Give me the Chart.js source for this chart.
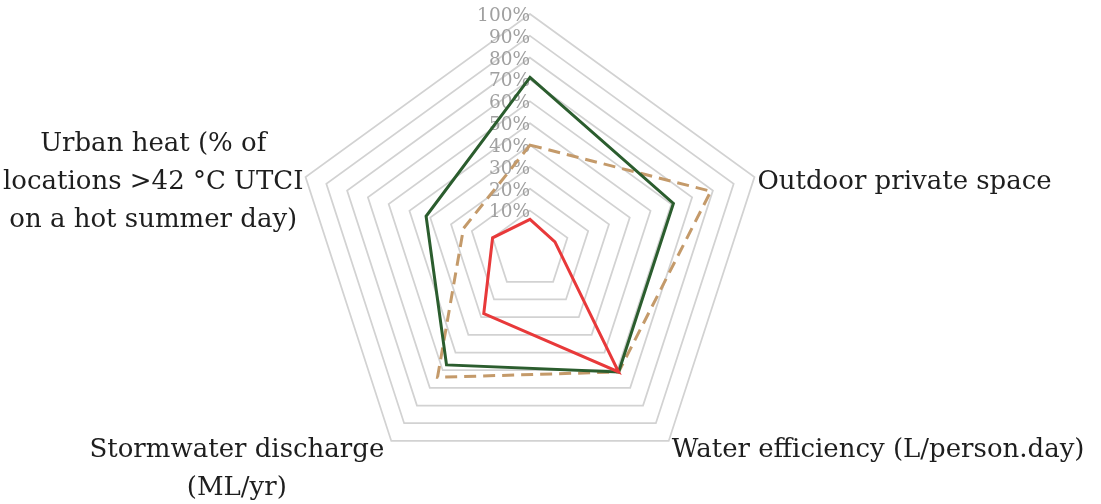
<!DOCTYPE html>
<html>
<head>
    <title>Precinct performance radar</title>
    <script src="https://cdn.jsdelivr.net/npm/chart.js"></script>
    <style>
        html, body { margin: 0; padding: 0; background: #fff; }
        #wrap { width: 1101px; height: 504px; }
    </style>
</head>
<body>
<div id="wrap"><canvas id="radarChart"></canvas></div>
<script>
    // axes, clockwise from the top (top axis has no label in the original)
    const categories = [
        [],
        ['Outdoor private space'],
        ['Water efficiency (L/person.day)'],
        ['Stormwater discharge', '(ML/yr)'],
        ['Urban heat (% of', 'locations >42 \u00B0C UTCI', 'on a hot summer day)']
    ];

    // values in % of each axis
    const greenSeries = [71, 61, 61, 57, 42];
    const tanSeries = [40, 79, 61, 64, 24];
    const redSeries = [6, 4, 61, 28, 10];

    const tickValues = [10, 20, 30, 40, 50, 60, 70, 80, 90, 100];
    const tickLabels = tickValues.map(v => v + '%');

    const axisMin = -8;   // inner ring (10%) sits away from the centre, as in the original
    const labelFont = '26px "DejaVu Serif", serif';
    const tickFont = '18.5px "DejaVu Serif", serif';

    // tick labels and axis titles drawn Excel-style (right-aligned ticks, centred multi-line titles)
    const excelLabels = {
        id: 'excelLabels',
        beforeDatasetsDraw(chart) {
            const scale = chart.scales.r;
            const ctx = chart.ctx;
            ctx.save();
            ctx.font = tickFont;
            ctx.fillStyle = '#a0a0a0';
            ctx.textAlign = 'right';
            ctx.textBaseline = 'middle';
            tickValues.forEach((v, i) => {
                const p = scale.getPointPositionForValue(0, v);
                ctx.fillText(tickLabels[i], p.x, p.y + 2);
            });
            ctx.restore();
        },
        afterDraw(chart) {
            const scale = chart.scales.r;
            const ctx = chart.ctx;
            const lineH = 38;
            ctx.save();
            ctx.font = labelFont;
            ctx.fillStyle = '#1e1e1e';
            ctx.textAlign = 'center';
            ctx.textBaseline = 'middle';
            categories.forEach((lines, i) => {
                if (!lines.length) return;
                const p = scale.getPointPosition(i, scale.drawingArea);
                const w = Math.max(...lines.map(l => ctx.measureText(l).width));
                let midX = p.x;
                if (p.x > scale.xCenter + 5) midX = p.x + 3 + w / 2;
                else if (p.x < scale.xCenter - 5) midX = Math.max(p.x - 7 - w / 2, 3 + w / 2);
                let top;
                if (p.y > scale.yCenter + 20) top = p.y - 10;
                else top = p.y + 5 - lines.length * lineH / 2;
                lines.forEach((l, j) => ctx.fillText(l, midX, top + lineH * (j + 0.5)));
            });
            ctx.restore();
        }
    };

    const ctx = document.getElementById('radarChart').getContext('2d');
    const chart = new Chart(ctx, {
        type: 'radar',
        data: {
            labels: categories,
            datasets: [
                {
                    label: 'Option C',
                    data: redSeries,
                    borderColor: '#e8393a',
                    borderWidth: 3,
                    fill: false,
                    pointRadius: 0,
                    tension: 0
                },
                {
                    label: 'Option B',
                    data: greenSeries,
                    borderColor: '#2b5d2e',
                    borderWidth: 3,
                    fill: false,
                    pointRadius: 0,
                    tension: 0
                },
                {
                    label: 'Option A',
                    data: tanSeries,
                    borderColor: '#c49a6a',
                    borderWidth: 3,
                    borderDash: [12, 7],
                    fill: false,
                    pointRadius: 0,
                    tension: 0
                }
            ]
        },
        options: {
            responsive: true,
            maintainAspectRatio: false,
            animation: false,
            layout: {
                padding: { left: 0, right: 41, top: 14, bottom: 18 }
            },
            plugins: {
                legend: { display: false },
                tooltip: { enabled: false }
            },
            scales: {
                r: {
                    min: axisMin,
                    max: 100,
                    afterBuildTicks: (scale) => {
                        scale.ticks = [axisMin, ...tickValues].map(v => ({ value: v }));
                    },
                    ticks: { display: false },
                    pointLabels: { display: false },
                    angleLines: { display: false },
                    grid: { color: '#d2d2d2', lineWidth: 1.75 }
                }
            }
        },
        plugins: [excelLabels]
    });
</script>
</body>
</html>
